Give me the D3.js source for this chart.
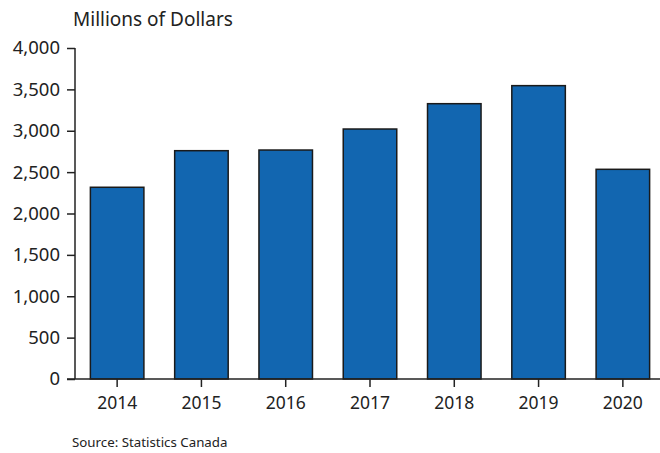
<!DOCTYPE html>
<html><head><meta charset="utf-8">
<script src="https://cdn.jsdelivr.net/npm/d3@7"></script>
<style>body{margin:0;background:#fff}svg{display:block}text{font-family:"Noto Sans",sans-serif;fill:#222}</style>
</head><body><svg id="c" width="660" height="453"></svg>
<script>
const years = ["2014","2015","2016","2017","2018","2019","2020"];
const values = [2317, 2759, 2767, 3021, 3327, 3545, 2534];
const yTicks = [0,500,1000,1500,2000,2500,3000,3500,4000];
const title = "Millions of Dollars";
const source = "Source: Statistics Canada";

const svg = d3.select("#c");
const x = d3.scaleBand().domain(years).range([75,665]).paddingInner(0.365).paddingOuter(0.1825);
const y = d3.scaleLinear().domain([0,4000]).range([379,48]);

svg.append("g").selectAll("rect").data(values).join("rect")
  .attr("x",(d,i)=>x(years[i])).attr("width",x.bandwidth())
  .attr("y",d=>y(d)).attr("height",d=>y(0)-y(d))
  .attr("fill","#1266b0").attr("stroke","#1a1a1a").attr("stroke-width",1.5);

const ya = svg.append("g").attr("transform","translate(75,0)")
  .call(d3.axisLeft(y).tickValues(yTicks).tickSize(8).tickPadding(7).tickFormat(d3.format(",")));
ya.select(".domain").attr("d","M0,48V379").attr("stroke","#222").attr("stroke-width",1.5);
ya.selectAll(".tick line").attr("stroke","#222").attr("stroke-width",1.5);
ya.selectAll("text").style("font-size","18.5px").attr("fill","#222");

const xa = svg.append("g").attr("transform","translate(0,379)")
  .call(d3.axisBottom(x).tickSize(8).tickPadding(10));
xa.select(".domain").attr("d","M67,0H660").attr("stroke","#222").attr("stroke-width",1.5);
xa.selectAll(".tick line").attr("stroke","#222").attr("stroke-width",1.5);
xa.selectAll("text").style("font-size","17.5px").attr("fill","#222");
ya.raise();

svg.append("text").attr("x",73).attr("y",26).style("font-size","19px").text(title);
svg.append("text").attr("x",72).attr("y",447).style("font-size","13.3px").text(source);
</script></body></html>
